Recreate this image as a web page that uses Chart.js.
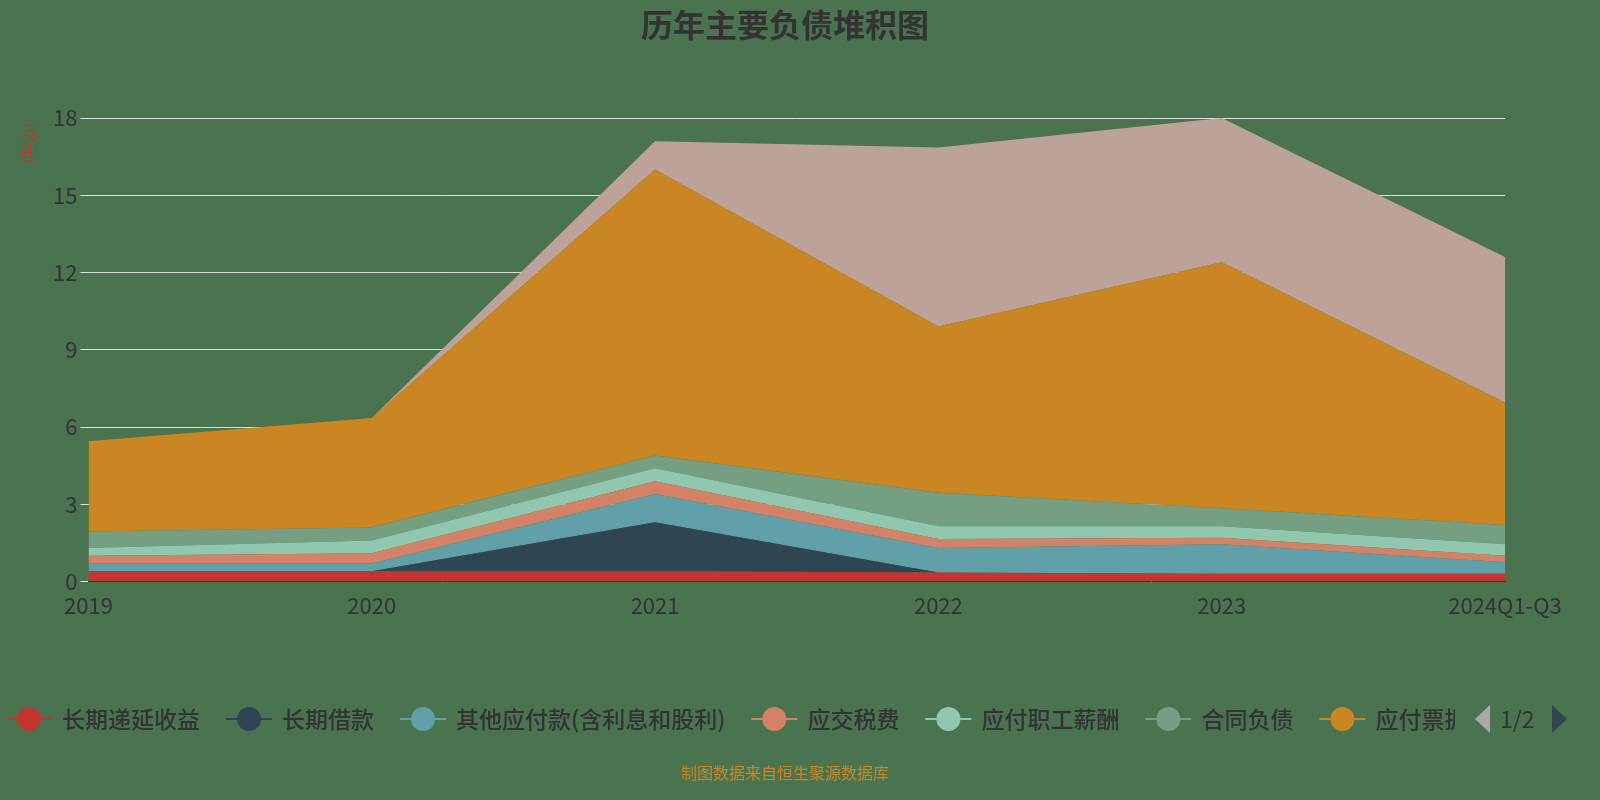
<!DOCTYPE html>
<html><head><meta charset="utf-8">
<script src="https://cdn.jsdelivr.net/npm/chart.js@4"></script>
<style>html,body{margin:0;padding:0;background:#4a7350}#w{width:1600px;height:800px}</style>
</head><body><div id="w"><canvas id="c"></canvas></div>
<script>
const categories=['2019','2020','2021','2022','2023','2024Q1-Q3'];
const names=['长期递延收益','长期借款','其他应付款(含利息和股利)','应交税费','应付职工薪酬','合同负债','应付票据','应付账款'];
const colors=['#c23531','#2f4554','#61a0a8','#d48265','#91c7ae','#749f83','#ca8622','#bda29a'];
const s0=[0.4,0.4,0.4,0.35,0.3,0.3];
const s1=[0,0,1.9,0,0,0];
const s2=[0.3,0.3,1.1,0.95,1.15,0.45];
const s3=[0.3,0.4,0.5,0.35,0.25,0.25];
const s4=[0.3,0.5,0.5,0.5,0.45,0.45];
const s5=[0.65,0.5,0.5,1.3,0.7,0.75];
const s6=[3.5,4.25,11.1,6.45,9.55,4.75];
const s7=[0,0,1.1,6.95,5.6,5.65];
const series=[s0,s1,s2,s3,s4,s5,s6,s7];
const yTicks=[0,3,6,9,12,15,18];
const F='"Noto Sans CJK SC","Noto Sans",sans-serif';
const deco={id:'deco',afterDraw(ch){
 const x=ch.ctx;x.save();
 x.fillStyle='#333';x.font='bold 32px '+F;x.textAlign='center';x.textBaseline='middle';
 x.fillText('历年主要负债堆积图',785,25);
 x.save();x.translate(30,143);x.rotate(Math.PI/2);x.fillStyle='#c23531';x.font='15px '+F;x.fillText('(亿元)',0,0);x.restore();
 x.fillStyle='#ca8622';x.font='16px '+F;x.fillText('制图数据来自恒生聚源数据库',785,773);
 // legend
 x.save();x.beginPath();x.rect(0,690,1455,60);x.clip();
 let lx=6;const ly=719;x.font='500 23px '+F;x.textAlign='left';
 for(let i=0;i<7;i++){
  x.strokeStyle=colors[i];x.lineWidth=2;x.beginPath();x.moveTo(lx,ly);x.lineTo(lx+46,ly);x.stroke();
  x.fillStyle=colors[i];x.beginPath();x.arc(lx+23,ly,12,0,Math.PI*2);x.fill();
  x.fillStyle='#333';x.fillText(names[i],lx+56,ly);
  lx+=56+x.measureText(names[i]).width+26;
 }
 x.restore();
 x.font='23px '+F;x.textAlign='left';
 x.fillStyle='#aaa';x.beginPath();x.moveTo(1490,705);x.lineTo(1475,719);x.lineTo(1490,733);x.fill();
 x.fillStyle='#333';x.fillText('1/2',1500,719);
 x.fillStyle='#2f4554';x.beginPath();x.moveTo(1552,705);x.lineTo(1567,719);x.lineTo(1552,733);x.fill();
 x.restore();
}};
new Chart(document.getElementById('c'),{type:'line',
 data:{labels:categories,datasets:series.map((d,i)=>({label:names[i],data:d,backgroundColor:colors[i],borderColor:colors[i],borderWidth:0,pointRadius:0,fill:i===0?'origin':'-1',tension:0}))},
 options:{responsive:true,maintainAspectRatio:false,animation:false,
  layout:{padding:{top:118,left:50,right:95,bottom:178}},
  plugins:{legend:{display:false},tooltip:{enabled:false}},
  scales:{x:{offset:false,grid:{display:false},border:{color:'#333',width:1},ticks:{color:'#333',font:{size:22,family:F},maxRotation:0,autoSkip:false}},
   y:{stacked:true,min:0,max:18,afterBuildTicks:a=>{a.ticks=yTicks.map(v=>({value:v}))},grid:{color:'#dddddd',drawTicks:true,tickLength:8},border:{display:false},ticks:{color:'#333',font:{size:22,family:F}}}}},
 plugins:[deco]});
</script></body></html>
